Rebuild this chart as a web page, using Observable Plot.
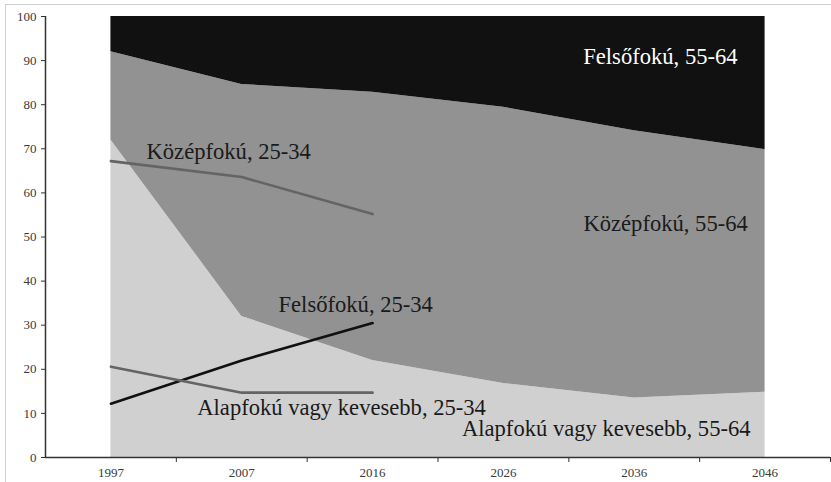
<!DOCTYPE html>
<html>
<head>
<meta charset="utf-8">
<script src="https://cdn.jsdelivr.net/npm/d3@7"></script>
<script src="https://cdn.jsdelivr.net/npm/@observablehq/plot@0.6"></script>
<style>
  html, body { margin: 0; padding: 0; background: #fff; }
  #wrap { position: relative; width: 831px; height: 482px; }
  #border { position: absolute; left: 5px; top: 4px; width: 826px; height: 478px;
            border-top: 1px solid #cfcfcf; border-left: 1px solid #cfcfcf; pointer-events: none; }
  svg text { font-family: "Liberation Serif", "Times New Roman", serif; }
</style>
</head>
<body>
<div id="wrap"><div id="border"></div></div>
<script>
// Years (categories)
const years = ["1997", "2007", "2016", "2026", "2036", "2046"];

// 55-64 age group shares (%), stacked areas
const alap5564 = [72, 32, 22, 16.8, 13.5, 14.8];
const kozep5564 = [20, 52.6, 60.8, 62.6, 60.6, 55];
const felso5564 = [8, 15.4, 17.2, 20.6, 25.9, 30.2];

// 25-34 age group shares (%), lines (1997-2016 only)
const kozep2534 = [67.2, 63.6, 55.2];
const felso2534 = [12.2, 22.0, 30.5];
const alap2534 = [20.6, 14.7, 14.7];

const seriesNames = ["Alapfokú vagy kevesebb, 55-64", "Középfokú, 55-64", "Felsőfokú, 55-64"];
const yTicks = [0, 10, 20, 30, 40, 50, 60, 70, 80, 90, 100];

// labels: text, x (category index), y (value), anchor, colour
const labelTexts = ["Felsőfokú, 55-64", "Középfokú, 25-34", "Középfokú, 55-64", "Felsőfokú, 25-34", "Alapfokú vagy kevesebb, 25-34", "Alapfokú vagy kevesebb, 55-64"];
const labelX = [4.79, 0.272, 4.868, 1.281, 0.66, 4.889];
const labelY = [89.3, 67.6, 51.3, 32.9, 9.7, 4.8];
const labelAnchor = ["end", "start", "end", "start", "start", "end"];
const labelFill = ["#ffffff", "#1a1a1a", "#1a1a1a", "#1a1a1a", "#1a1a1a", "#1a1a1a"];

const areaData = [];
[alap5564, kozep5564, felso5564].forEach((arr, s) =>
  arr.forEach((v, i) => areaData.push({i, v, s: seriesNames[s]})));

const lineData = [];
[["k", kozep2534, "#646464"], ["f", felso2534, "#111111"], ["a", alap2534, "#646464"]].forEach(([k, arr, c]) =>
  arr.forEach((v, i) => lineData.push({i, v, k, c})));

const labels = labelTexts.map((t, j) => ({t, x: labelX[j], y: labelY[j], a: labelAnchor[j], f: labelFill[j]}));

const chart = Plot.plot({
  width: 831,
  height: 482,
  marginLeft: 45,
  marginRight: 1,
  marginTop: 16,
  marginBottom: 25,
  style: {fontFamily: "Liberation Serif, serif", background: "transparent", overflow: "visible"},
  x: {domain: [-0.5, 5.5], axis: null},
  y: {domain: [0, 100], axis: null},
  color: {domain: seriesNames, range: ["#d0d0d0", "#929292", "#111111"]},
  marks: [
    Plot.areaY(areaData, {x: "i", y: "v", fill: "s", z: "s"}),
    Plot.line(lineData, {x: "i", y: "v", z: "k", stroke: "c", strokeWidth: 2.6}),
    ...["start", "end"].map(a => Plot.text(labels.filter(d => d.a === a), {
      x: "x", y: "y", text: "t", fill: "f", textAnchor: a, lineAnchor: "bottom",
      fontSize: 22.6, fontFamily: "Liberation Serif, serif"
    })),
    Plot.ruleY([0], {stroke: "#333", strokeWidth: 1.5}),
    Plot.ruleX([-0.5], {stroke: "#333", strokeWidth: 1.5}),
    Plot.axisY({ticks: yTicks, tickSize: 4, tickPadding: 5, fontSize: 13, fill: "#3a3a3a", stroke: "#333", label: null}),
    Plot.axisX({ticks: [0.5, 1.5, 2.5, 3.5, 4.5, 5.5], tickSize: 5, tickFormat: () => "", stroke: "#333", label: null}),
    Plot.axisX({ticks: d3.range(6), tickSize: 0, tickPadding: 10, tickFormat: i => years[i], fontSize: 13, fill: "#3a3a3a", label: null})
  ]
});
document.getElementById("wrap").prepend(chart);
</script>
</body>
</html>
